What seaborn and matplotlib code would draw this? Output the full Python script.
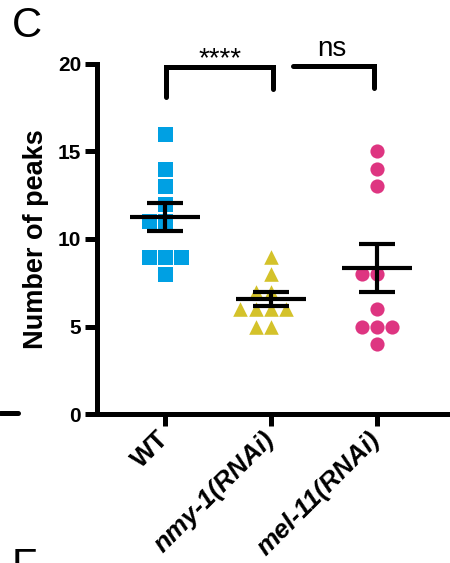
import warnings
warnings.filterwarnings("ignore")
import numpy as np
import pandas as pd
import matplotlib
matplotlib.use("Agg")
import matplotlib.pyplot as plt
from matplotlib.lines import Line2D
import seaborn as sns

# ---- data ----
categories = ["WT", "nmy-1(RNAi)", "mel-11(RNAi)"]
wt_values = [16, 14, 13, 12, 11, 11, 9, 9, 9, 8]
nmy1_values = [9, 8, 7, 7, 6, 6, 6, 6, 5, 5]
mel11_values = [15, 14, 13, 8, 8, 6, 5, 5, 5, 4]
group_means = [11.25, 6.6, 8.35]
group_sems = [0.8, 0.4, 1.37]
y_ticks = [0, 5, 10, 15, 20]
sig_labels = ["****", "ns"]

colors = ["#00A0E3", "#D4C22A", "#DE3581"]
markers = ["s", "^", "o"]
sizes = [10.8, 10.5, 10.2]

sns.set_theme(style="ticks")
plt.rcParams["font.family"] = ["Liberation Sans", "DejaVu Sans"]
plt.rcParams["text.color"] = "black"
plt.rcParams["axes.labelcolor"] = "black"
plt.rcParams["xtick.color"] = "black"
plt.rcParams["ytick.color"] = "black"
plt.rcParams["axes.edgecolor"] = "black"

W, H = 450, 563
fig = plt.figure(figsize=(W / 100, H / 100), dpi=100)
ax = fig.add_axes([97 / W, (H - 414) / H, 1 - 97 / W, 350 / H])

df = pd.DataFrame({
    "group": [categories[0]] * len(wt_values) + [categories[1]] * len(nmy1_values)
             + [categories[2]] * len(mel11_values),
    "value": wt_values + nmy1_values + mel11_values,
})

for cat, col, mk, sz in zip(categories, colors, markers, sizes):
    sns.swarmplot(data=df[df["group"] == cat], x="group", y="value", order=categories,
                  color=col, marker=mk, size=sz, linewidth=0, ax=ax, zorder=2)

# mean line and SEM
for i, (m, s) in enumerate(zip(group_means, group_sems)):
    ax.hlines(m, i - 0.33, i + 0.33, color="black", lw=3, zorder=4)
    ax.errorbar([i], [m], yerr=[s], fmt="none", ecolor="black", elinewidth=3,
                capsize=13, capthick=3, zorder=4)

ax.set_ylim(0, 20)
ax.set_xlim(-0.642, 2.69)
ax.set_yticks(y_ticks)
ax.set_yticklabels([str(t) for t in y_ticks], fontsize=15, fontweight="bold", color="black")
ax.set_xticks(range(len(categories)))
ax.set_xticklabels(categories, fontsize=19, fontweight="bold", rotation=45, color="black",
                   ha="right", va="center", rotation_mode="anchor")
for lbl in ax.get_xticklabels()[1:]:
    lbl.set_fontstyle("italic")
ax.set_xlabel("")
ax.set_ylabel("Number of peaks", fontsize=19.5, fontweight="bold", labelpad=6, color="black")

for side in ["top", "right"]:
    ax.spines[side].set_visible(False)
for side in ["left", "bottom"]:
    ax.spines[side].set_linewidth(3.6)
    ax.spines[side].set_color("black")
ax.tick_params(axis="y", length=8.5, width=3.6, pad=3, colors="black")
ax.tick_params(axis="x", length=8.5, width=3.6, pad=7, colors="black")
ax.set_facecolor("white")

# significance brackets
ax.plot([0.01, 0.01, 1.02, 1.02], [18.1, 19.8, 19.8, 18.55], color="black", lw=3.6,
        clip_on=False, solid_capstyle="round", solid_joinstyle="miter")
ax.plot([1.21, 1.97, 1.97], [19.9, 19.9, 18.6], color="black", lw=3.6,
        clip_on=False, solid_capstyle="round", solid_joinstyle="miter")
ax.text(0.52, 19.85, sig_labels[0], ha="center", va="baseline", fontsize=20,
        color="black", clip_on=False)
ax.text(1.57, 20.45, sig_labels[1], ha="center", va="baseline", fontsize=20,
        color="black", clip_on=False)

# panel letters and neighbouring-panel fragment
fig.text(12 / W, 1 - 37 / H, "C", fontsize=30, ha="left", va="baseline", color="black")
fig.text(12 / W, 1 - 578 / H, "F", fontsize=30, ha="left", va="baseline", color="black")
fig.add_artist(Line2D([0, 18 / W], [1 - 413 / H, 1 - 413 / H], transform=fig.transFigure,
                      color="black", lw=3.6))

fig.savefig("out.png", dpi=100, facecolor="white")
